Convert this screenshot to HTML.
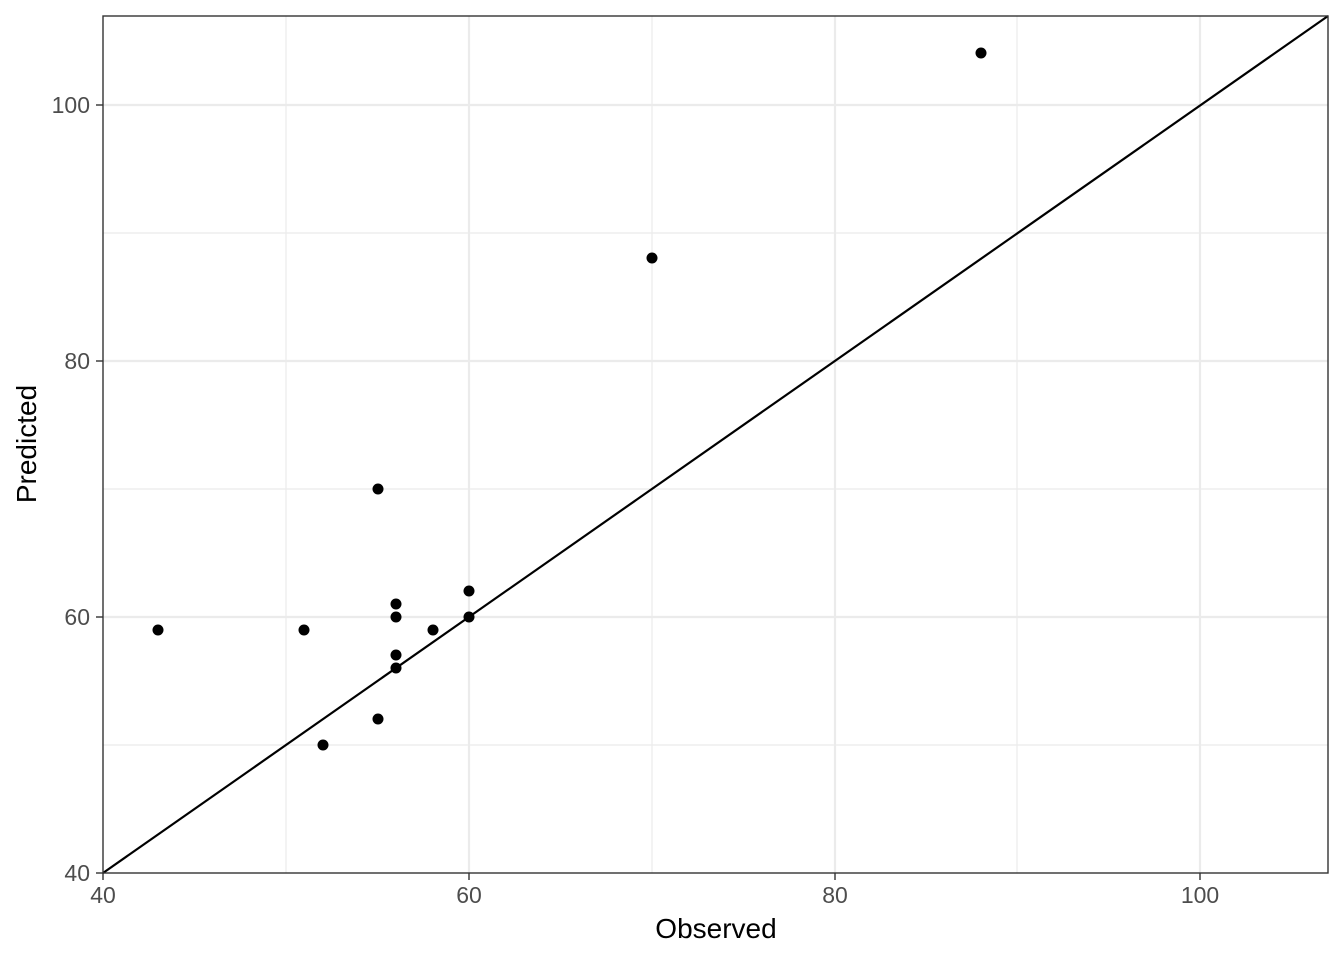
<!DOCTYPE html>
<html><head><meta charset="utf-8"><style>html,body{margin:0;padding:0;background:#fff}</style></head>
<body>
<svg width="1344" height="960" xmlns="http://www.w3.org/2000/svg" font-family="Liberation Sans, sans-serif">
<rect width="1344" height="960" fill="#fff"/>
<g stroke="#ebebeb" stroke-width="1.2">
<line x1="286" y1="16" x2="286" y2="873"/><line x1="652" y1="16" x2="652" y2="873"/><line x1="1017" y1="16" x2="1017" y2="873"/>
<line x1="103" y1="745" x2="1328" y2="745"/><line x1="103" y1="489" x2="1328" y2="489"/><line x1="103" y1="233" x2="1328" y2="233"/>
</g>
<g stroke="#ebebeb" stroke-width="2.2">
<line x1="469" y1="16" x2="469" y2="873"/><line x1="835" y1="16" x2="835" y2="873"/><line x1="1200" y1="16" x2="1200" y2="873"/>
<line x1="103" y1="617" x2="1328" y2="617"/><line x1="103" y1="361" x2="1328" y2="361"/><line x1="103" y1="105" x2="1328" y2="105"/>
</g>
<line x1="103" y1="873" x2="1328" y2="16" stroke="#000" stroke-width="2.2"/>
<g fill="#000">
<circle cx="158" cy="630" r="5.5"/><circle cx="304" cy="630" r="5.5"/><circle cx="323" cy="745" r="5.5"/>
<circle cx="378" cy="489" r="5.5"/><circle cx="378" cy="719" r="5.5"/><circle cx="396" cy="604" r="5.5"/>
<circle cx="396" cy="617" r="5.5"/><circle cx="396" cy="655" r="5.5"/><circle cx="396" cy="668" r="5.5"/>
<circle cx="433" cy="630" r="5.5"/><circle cx="469" cy="591" r="5.5"/><circle cx="469" cy="617" r="5.5"/>
<circle cx="652" cy="258" r="5.5"/><circle cx="981" cy="53" r="5.5"/>
</g>
<rect x="103" y="16" width="1225" height="857" fill="none" stroke="#333" stroke-width="1.4"/>
<g stroke="#333" stroke-width="1.4">
<line x1="103" y1="873" x2="103" y2="880"/><line x1="469" y1="873" x2="469" y2="880"/><line x1="835" y1="873" x2="835" y2="880"/><line x1="1200" y1="873" x2="1200" y2="880"/>
<line x1="96" y1="873" x2="103" y2="873"/><line x1="96" y1="617" x2="103" y2="617"/><line x1="96" y1="361" x2="103" y2="361"/><line x1="96" y1="105" x2="103" y2="105"/>
</g>
<g fill="#4d4d4d" font-size="23">
<text x="103" y="903" text-anchor="middle">40</text><text x="469" y="903" text-anchor="middle">60</text><text x="835" y="903" text-anchor="middle">80</text><text x="1200" y="903" text-anchor="middle">100</text>
<text x="90" y="881" text-anchor="end">40</text><text x="90" y="625" text-anchor="end">60</text><text x="90" y="369" text-anchor="end">80</text><text x="90" y="113" text-anchor="end">100</text>
</g>
<text x="716" y="938" text-anchor="middle" font-size="28">Observed</text>
<text transform="translate(36,444) rotate(-90)" text-anchor="middle" font-size="28">Predicted</text>
</svg>
</body></html>
